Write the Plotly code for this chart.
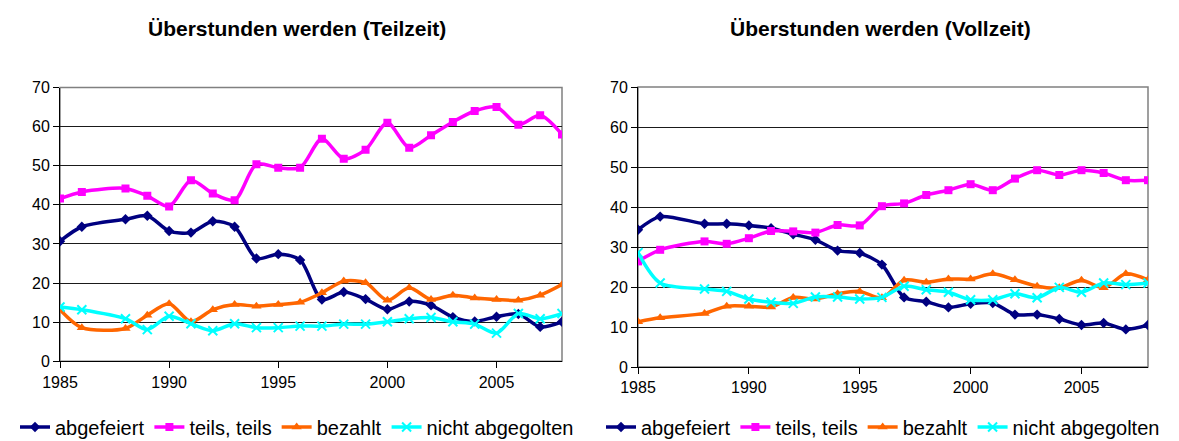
import plotly.graph_objects as go

years = [1985, 1986, 1988, 1989, 1990, 1991, 1992, 1993, 1994, 1995, 1996, 1997,
         1998, 1999, 2000, 2001, 2002, 2003, 2004, 2005, 2006, 2007, 2008]

series_names = ["abgefeiert", "teils, teils", "bezahlt", "nicht abgegolten"]

# Teilzeit (left)
tz_abgefeiert = [30.7, 34.4, 36.3, 37.2, 33.3, 32.9, 35.8, 34.4, 26.3, 27.4, 25.9, 15.8,
                 17.7, 15.9, 13.3, 15.3, 14.3, 11.3, 10.2, 11.4, 12.1, 8.8, 10.1]
tz_teils = [41.6, 43.3, 44.2, 42.3, 39.6, 46.3, 42.9, 41.2, 50.4, 49.5, 49.5, 56.9,
            51.8, 54.1, 61.0, 54.6, 57.8, 61.2, 64.0, 65.0, 60.5, 62.9, 58.0]
tz_bezahlt = [13.2, 8.6, 8.4, 11.8, 14.7, 10.1, 13.2, 14.5, 14.1, 14.5, 15.1, 17.5,
              20.5, 20.1, 15.6, 18.8, 15.8, 16.9, 16.2, 15.8, 15.6, 16.9, 19.6]
tz_nicht = [13.9, 13.2, 10.9, 8.1, 11.5, 9.6, 7.8, 9.6, 8.6, 8.6, 9.0, 9.0,
            9.5, 9.5, 10.1, 10.9, 11.2, 10.1, 9.5, 7.2, 12.2, 10.9, 12.2]

# Vollzeit (right)
vz_abgefeiert = [34.3, 37.6, 35.8, 35.8, 35.4, 34.7, 33.2, 31.8, 29.1, 28.5, 25.6, 17.4,
                 16.3, 14.9, 15.8, 16.0, 13.1, 13.1, 12.0, 10.5, 11.0, 9.4, 10.5]
vz_teils = [26.4, 29.3, 31.4, 30.8, 32.2, 34.0, 33.9, 33.6, 35.5, 35.4, 40.2, 40.9,
            43.0, 44.2, 45.7, 44.2, 47.1, 49.2, 48.0, 49.2, 48.5, 46.7, 46.7]
vz_bezahlt = [11.3, 12.3, 13.4, 15.2, 15.2, 15.0, 17.4, 17.0, 18.3, 18.9, 17.3, 21.7,
              21.2, 22.0, 22.0, 23.3, 21.8, 20.2, 19.8, 21.7, 19.8, 23.3, 21.8]
vz_nicht = [28.6, 21.0, 19.5, 18.9, 17.0, 16.2, 15.9, 17.5, 17.5, 17.0, 17.4, 20.2,
            19.3, 18.7, 16.8, 16.8, 18.3, 17.3, 19.9, 18.7, 21.0, 20.6, 21.0]

titles = ["Überstunden werden (Teilzeit)", "Überstunden werden (Vollzeit)"]
y_ticks = [0, 10, 20, 30, 40, 50, 60, 70]
x_ticks = [1985, 1990, 1995, 2000, 2005]

colors = ["#000080", "#FF00FF", "#FF6600", "#00FFFF"]
symbols = ["diamond", "square", "triangle-up", "x-thin"]
msizes = [8, 8, 9, 9]

FONT = "Arial, 'Liberation Sans', sans-serif"

fig = go.Figure()
panels = [
    ([tz_abgefeiert, tz_teils, tz_bezahlt, tz_nicht], "x", "y", "legend"),
    ([vz_abgefeiert, vz_teils, vz_bezahlt, vz_nicht], "x2", "y2", "legend2"),
]
for data, xa, ya, lg in panels:
    for i, vals in enumerate(data):
        marker = dict(symbol=symbols[i], size=msizes[i], color=colors[i])
        if symbols[i] == "x-thin":
            marker["line"] = dict(width=2, color=colors[i])
        fig.add_trace(go.Scatter(
            x=years, y=vals, name=series_names[i], mode="lines+markers",
            line=dict(color=colors[i], width=3.5, shape="spline", smoothing=0.8),
            marker=marker, xaxis=xa, yaxis=ya, legend=lg,
        ))

axis_x = dict(range=[1985, 2008], tickvals=x_ticks, ticks="outside", ticklen=6,
              tickcolor="black", showline=True, linecolor="black", linewidth=1,
              showgrid=False, zeroline=False, automargin=False,
              tickfont=dict(family=FONT, size=16, color="black"))
axis_y = dict(range=[0, 70], tickvals=y_ticks, ticks="outside", ticklen=6,
              tickcolor="black", showline=True, linecolor="black", linewidth=1,
              showgrid=True, gridcolor="#1a1a1a", gridwidth=1, zeroline=False,
              automargin=False,
              tickfont=dict(family=FONT, size=16, color="black"))

fig.update_layout(
    width=1179, height=441, autosize=False,
    margin=dict(l=0, r=0, t=0, b=0, autoexpand=False),
    paper_bgcolor="white", plot_bgcolor="white",
    xaxis=dict(axis_x, domain=[60/1179, 562/1179], anchor="y"),
    yaxis=dict(axis_y, domain=[1-361.3/441, 1-87.5/441], anchor="x"),
    xaxis2=dict(axis_x, domain=[638/1179, 1148/1179], anchor="y2"),
    yaxis2=dict(axis_y, domain=[1-367/441, 1-87/441], anchor="x2"),
    legend=dict(orientation="h", x=15/1179, xanchor="left", y=1-427/441, yanchor="middle",
                font=dict(family=FONT, size=20, color="black"), tracegroupgap=0,
                bgcolor="rgba(0,0,0,0)"),
    legend2=dict(orientation="h", x=601/1179, xanchor="left", y=1-427/441, yanchor="middle",
                 font=dict(family=FONT, size=20, color="black"), tracegroupgap=0,
                 bgcolor="rgba(0,0,0,0)"),
    annotations=[
        dict(text="<b>" + titles[0] + "</b>", x=297/1179, y=1-28/441, xref="paper", yref="paper",
             showarrow=False, xanchor="center", yanchor="middle",
             font=dict(family=FONT, size=21, color="black")),
        dict(text="<b>" + titles[1] + "</b>", x=880/1179, y=1-28/441, xref="paper", yref="paper",
             showarrow=False, xanchor="center", yanchor="middle",
             font=dict(family=FONT, size=21, color="black")),
    ],
    shapes=[
        dict(type="rect", xref="x domain", yref="y domain", x0=0, x1=1, y0=0, y1=1,
             line=dict(color="#808080", width=1.5), layer="below"),
        dict(type="rect", xref="x2 domain", yref="y2 domain", x0=0, x1=1, y0=0, y1=1,
             line=dict(color="#808080", width=1.5), layer="below"),
    ],
)

fig.write_html(
    "out.html",
    config={"displayModeBar": False},
    post_script="document.body.style.margin='0';document.body.style.overflow='hidden';",
)
